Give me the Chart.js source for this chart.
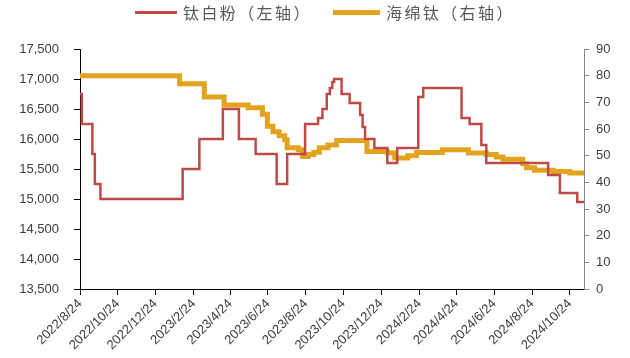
<!DOCTYPE html>
<html>
<head>
<meta charset="utf-8">
<script src="https://cdn.jsdelivr.net/npm/chart.js@4.4.1/dist/chart.umd.min.js"></script>
<style>
  html, body { margin: 0; padding: 0; background: #fff; }
  #wrap { position: relative; width: 630px; height: 358px; }
  .legend { position: absolute; top: 1px; left: 0; width: 630px; height: 22px; font-family: 'Noto Sans CJK SC', sans-serif; font-size: 16px; letter-spacing: 2.4px; color: #595959; }
  .legend .item { position: absolute; top: 0; display: flex; align-items: center; height: 22px; white-space: nowrap; }
  .legend .swatch { display: inline-block; margin-right: 6px; }
</style>
</head>
<body>
<div id="wrap">
  <div class="legend" id="legend"></div>
  <canvas id="chart"></canvas>
</div>
<script>
// 钛白粉 (left axis), change points: date the level starts -> price
const powderDates = ['2022-08-24','2022-08-27','2022-09-13','2022-09-17','2022-09-26','2023-02-06','2023-03-05','2023-04-12','2023-05-08','2023-06-04','2023-07-08','2023-07-25','2023-08-23','2023-09-13','2023-09-20','2023-09-27','2023-10-02','2023-10-06','2023-10-09','2023-10-21','2023-11-03','2023-11-20','2023-11-24','2023-11-28','2023-12-13','2024-01-03','2024-01-19','2024-02-22','2024-03-01','2024-05-02','2024-05-15','2024-06-03','2024-06-11','2024-09-19','2024-10-08','2024-11-05','2024-11-16'];
const powderValues = [16750,16250,15750,15250,15000,15500,16000,16500,16000,15750,15250,15750,16250,16350,16500,16750,16850,16950,17000,16750,16600,16400,16200,16000,15850,15600,15850,16700,16850,16350,16250,15900,15600,15400,15100,14950,14950];

// 海绵钛 (right axis)
const spongeDates = ['2022-08-24','2023-02-01','2023-03-13','2023-04-14','2023-05-23','2023-06-15','2023-06-23','2023-07-02','2023-07-12','2023-07-21','2023-07-25','2023-08-12','2023-08-19','2023-08-28','2023-09-06','2023-09-15','2023-09-29','2023-10-13','2023-12-01','2024-01-03','2024-01-15','2024-02-05','2024-02-19','2024-04-01','2024-05-13','2024-06-11','2024-06-27','2024-07-08','2024-08-09','2024-08-15','2024-08-28','2024-09-27','2024-10-24','2024-11-16'];
const spongeValues = [80,77,72,69,68,65.5,61,59,57.5,56,53,52.2,49.7,50.4,51.3,53,54,55.7,51.6,51,49.1,50,51.2,52.2,51,50.4,49.5,48.7,47,45.5,44.5,44.1,43.5,43.5];

const tickLabels = ['2022/8/24','2022/10/24','2022/12/24','2023/2/24','2023/4/24','2023/6/24','2023/8/24','2023/10/24','2023/12/24','2024/2/24','2024/4/24','2024/6/24','2024/8/24','2024/10/24'];
const lastDate = '2024-11-16';

const leftTicks = { min: 13500, max: 17500, step: 500 };
const rightTicks = { min: 0, max: 90, step: 10 };

const colors = ['#BE4B48', '#E2A420'];

// days since first date
const base = Date.UTC(2022, 7, 24);
function dayOf(str) {
    const p = str.split(/[-\/]/).map(Number);
    return Math.round((Date.UTC(p[0], p[1] - 1, p[2]) - base) / 86400000);
}

const tickDays = tickLabels.map(dayOf);

const labelFont = { family: 'Liberation Sans, Arial, sans-serif', size: 13 };

const chart = new Chart(document.getElementById('chart'), {
    type: 'line',
    data: {
        datasets: [
            {
                label: '钛白粉（左轴）',
                data: powderDates.map((d, i) => ({ x: dayOf(d), y: powderValues[i] })),
                borderColor: colors[0],
                backgroundColor: colors[0],
                borderWidth: 2.5,
                pointRadius: 0,
                stepped: 'before',
                yAxisID: 'y'
            },
            {
                label: '海绵钛（右轴）',
                data: spongeDates.map((d, i) => ({ x: dayOf(d), y: spongeValues[i] })),
                borderColor: colors[1],
                backgroundColor: colors[1],
                borderWidth: 5,
                pointRadius: 0,
                stepped: 'before',
                yAxisID: 'y1'
            }
        ]
    },
    options: {
        responsive: true,
        maintainAspectRatio: false,
        animation: false,
        layout: { padding: { top: 49, left: 0, right: 0, bottom: 0 } },
        plugins: {
            legend: { display: false },
            tooltip: { enabled: false }
        },
        scales: {
            x: {
                type: 'linear',
                min: 0,
                max: dayOf(lastDate),
                afterBuildTicks: (scale) => {
                    scale.ticks = tickDays.map(v => ({ value: v }));
                },
                afterFit: (scale) => { scale.height = 69; },
                ticks: {
                    autoSkip: false,
                    minRotation: 45,
                    maxRotation: 45,
                    color: '#404040',
                    font: labelFont,
                    padding: 1,
                    callback: (v) => tickLabels[tickDays.indexOf(v)]
                },
                grid: { drawOnChartArea: false, color: '#000', tickLength: 6 },
                border: { color: '#000', width: 1 }
            },
            y: {
                position: 'left',
                min: leftTicks.min,
                max: leftTicks.max,
                afterFit: (scale) => { scale.width = 80; },
                ticks: {
                    stepSize: leftTicks.step,
                    color: '#404040',
                    font: labelFont,
                    padding: 15,
                    callback: (v) => v.toLocaleString('en-US')
                },
                grid: { drawOnChartArea: false, color: '#000', tickLength: 6 },
                border: { color: '#000', width: 1 }
            },
            y1: {
                position: 'right',
                min: rightTicks.min,
                max: rightTicks.max,
                afterFit: (scale) => { scale.width = 46; },
                ticks: {
                    stepSize: rightTicks.step,
                    color: '#404040',
                    font: labelFont,
                    padding: 7
                },
                grid: { drawOnChartArea: false, color: '#888', tickLength: 5 },
                border: { color: '#888', width: 1 }
            }
        }
    }
});

// legend as html, built from the datasets
const legendPos = [{ left: 135, w: 42, h: 3 }, { left: 333, w: 47, h: 5 }];
chart.data.datasets.forEach((ds, i) => {
    const item = document.createElement('div');
    item.className = 'item';
    item.style.left = legendPos[i].left + 'px';
    item.innerHTML = '<span class="swatch" style="width:' + legendPos[i].w + 'px;height:' + legendPos[i].h + 'px;background:' + ds.borderColor + '"></span><span>' + ds.label + '</span>';
    document.getElementById('legend').appendChild(item);
});
</script>
</body>
</html>
